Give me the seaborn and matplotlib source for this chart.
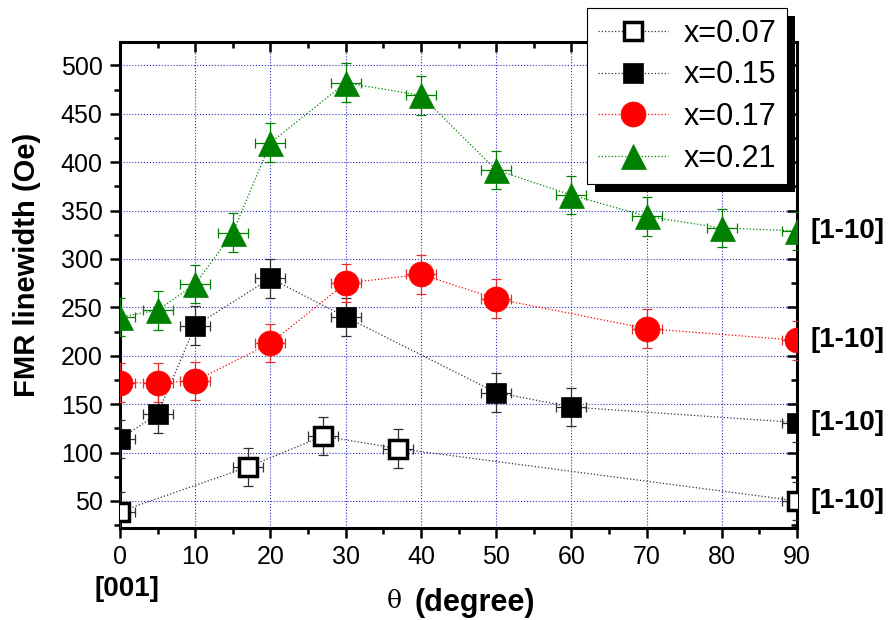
import matplotlib
matplotlib.use("Agg")
import matplotlib.pyplot as plt
from matplotlib.patches import Rectangle
from matplotlib.ticker import MultipleLocator
import seaborn as sns
import pandas as pd

# data
theta_007 = [0, 17, 27, 37, 90]
fmr_007 = [39, 85, 117, 104, 50]
theta_015 = [0, 5, 10, 20, 30, 50, 60, 90]
fmr_015 = [114, 140, 231, 280, 240, 162, 147, 131]
theta_017 = [0, 5, 10, 20, 30, 40, 50, 70, 90]
fmr_017 = [172, 172, 174, 213, 275, 284, 259, 228, 216]
theta_021 = [0, 5, 10, 15, 20, 30, 40, 50, 60, 70, 80, 90]
fmr_021 = [240, 247, 274, 327, 420, 482, 469, 392, 366, 344, 332, 329]
labels = ["x=0.07", "x=0.15", "x=0.17", "x=0.21"]
y_err = 20
x_err = 2

sns.set_theme(style="white")
plt.rcParams["font.family"] = ["Liberation Sans", "DejaVu Sans"]
plt.rcParams["text.color"] = "black"
plt.rcParams["xtick.color"] = "black"
plt.rcParams["ytick.color"] = "black"
plt.rcParams["axes.labelcolor"] = "black"

fig = plt.figure(figsize=(8.89, 6.2), dpi=100)
ax = fig.add_axes([0.135, 0.1484, 0.7615, 0.7836])

series = [
    (theta_007, fmr_007, "s", 13, "white", "black", "#303050", "#303030"),
    (theta_015, fmr_015, "s", 15, "black", "black", "#303050", "#303030"),
    (theta_017, fmr_017, "o", 18, "red", "red", "red", "#e03030"),
    (theta_021, fmr_021, "^", 18, "green", "green", "green", "green"),
]

for (xs, ys, mk, ms, fc, ec, lc, errc), lab in zip(series, labels):
    df = pd.DataFrame({"theta": xs, "fmr": ys})
    ax.errorbar(df["theta"], df["fmr"], yerr=y_err, xerr=x_err, fmt="none",
                ecolor=errc, elinewidth=0.9, capsize=3.5, capthick=0.9, zorder=3)
    sns.lineplot(data=df, x="theta", y="fmr", ax=ax, color=lc, linestyle=":",
                 linewidth=0.9, marker=mk, markersize=ms, markerfacecolor=fc,
                 markeredgecolor=ec, markeredgewidth=2.5 if fc == "white" else 0.5,
                 label=lab, zorder=4)

ax.set_xlim(0, 90)
ax.set_ylim(22, 524)
ax.xaxis.set_major_locator(MultipleLocator(10))
ax.xaxis.set_minor_locator(MultipleLocator(5))
ax.yaxis.set_minor_locator(MultipleLocator(25))
ax.set_yticks(range(50, 501, 50))
ax.grid(True, which="major", color="#3030c0", linestyle=":", linewidth=0.8)

for s in ax.spines.values():
    s.set_color("black")
    s.set_linewidth(2.2)
ax.tick_params(which="both", left=True, bottom=True, right=True, top=True,
               color="black", width=1.8, direction="out")
ax.tick_params(which="major", length=7.5)
ax.tick_params(which="minor", length=4.5)
ax.tick_params(axis="both", which="major", labelsize=18, pad=5, labelcolor="black")
# right and top ticks point inward
for t in ax.yaxis.get_ticklines(minor=False)[1::2] + ax.yaxis.get_ticklines(minor=True)[1::2]:
    t.set_marker(0)
for t in ax.xaxis.get_ticklines(minor=False)[1::2] + ax.xaxis.get_ticklines(minor=True)[1::2]:
    t.set_marker(3)

ax.set_xlabel("")
ax.set_ylabel("")
fig.text(27 / 889, 1 - 265 / 620, "FMR linewidth (Oe)", rotation=90, fontsize=21,
         fontweight="bold", ha="center", va="center")

# direction labels
for ys in [fmr_021, fmr_017, fmr_015, fmr_007]:
    ax.text(91.8, ys[-1], "[1-10]", fontsize=20, fontweight="bold",
            ha="left", va="center", clip_on=False)
ax.text(0.9, -0.125, "[001]", transform=ax.get_xaxis_transform(), fontsize=20,
        fontweight="bold", ha="center", va="center")

fig.text(394 / 889, 1 - 602 / 620, "θ", family=["DejaVu Serif"], fontsize=18,
         ha="center", va="center")
fig.text(414 / 889, 1 - 603 / 620, "(degree)", fontsize=22, fontweight="bold",
         ha="left", va="center")

leg = ax.legend(loc="upper right", bbox_to_anchor=(787 / 889, 1 - 8 / 620),
                bbox_transform=fig.transFigure, fontsize=22, frameon=True,
                fancybox=False, edgecolor="black", framealpha=1,
                handlelength=2.3, labelspacing=0.38, borderpad=0.35,
                handletextpad=0.5, borderaxespad=0)
leg.get_frame().set_linewidth(0.8)
leg.set_zorder(10)

fig.canvas.draw()
bb = leg.get_window_extent()
W, H = fig.bbox.width, fig.bbox.height
shadow = Rectangle(((bb.x0 + 8) / W, (bb.y0 - 8) / H), bb.width / W, bb.height / H,
                   transform=fig.transFigure, facecolor="black", edgecolor="none",
                   zorder=9, clip_on=False)
ax.add_patch(shadow)

fig.savefig("out.png", dpi=100)
